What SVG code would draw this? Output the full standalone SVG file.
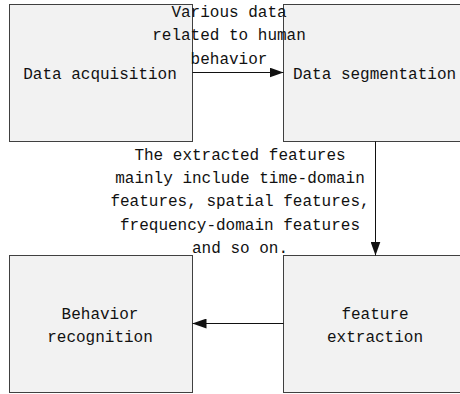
<svg xmlns="http://www.w3.org/2000/svg" width="460" height="394" viewBox="0 0 460 394">
  <style>
    .box { fill: #f2f2f2; stroke: #404040; stroke-width: 1; }
    .t { font-family: "Liberation Mono", "DejaVu Sans Mono", monospace; font-size: 16px; fill: #111; text-anchor: middle; }
    .conn { stroke: #111; stroke-width: 1; fill: none; }
  </style>
  <defs>
    <marker id="arr" viewBox="0 0 14 10" refX="14" refY="5" markerWidth="14" markerHeight="10" markerUnits="userSpaceOnUse" orient="auto">
      <path d="M0,0 L14,5 L0,10 Z" fill="#111"/>
    </marker>
  </defs>
  <g id="acq">
    <rect class="box" x="9.5" y="4.5" width="183" height="137"/>
    <text class="t" x="100" y="79">Data acquisition</text>
  </g>
  <g id="seg">
    <rect class="box" x="283.5" y="4.5" width="183" height="137"/>
    <text class="t" x="374.5" y="79">Data segmentation</text>
  </g>
  <g id="rec">
    <rect class="box" x="9.5" y="255.5" width="183" height="137"/>
    <text class="t" x="100" y="319">Behavior</text>
    <text class="t" x="100" y="342">recognition</text>
  </g>
  <g id="ext">
    <rect class="box" x="283.5" y="255.5" width="183" height="137"/>
    <text class="t" x="375" y="319">feature</text>
    <text class="t" x="375" y="342">extraction</text>
  </g>
  <g id="connectors">
    <line class="conn" x1="192.5" y1="72.5" x2="283.5" y2="72.5" marker-end="url(#arr)"/>
    <line class="conn" x1="375.5" y1="141.5" x2="375.5" y2="255.5" marker-end="url(#arr)"/>
    <line class="conn" x1="283.5" y1="323.5" x2="192.5" y2="323.5" marker-end="url(#arr)"/>
  </g>
  <g id="labels">
    <text class="t" x="229" y="17">Various data</text>
    <text class="t" x="229" y="40">related to human</text>
    <text class="t" x="229" y="63.5">behavior</text>
    <text class="t" x="240" y="160">The extracted features</text>
    <text class="t" x="240" y="183.2">mainly include time-domain</text>
    <text class="t" x="240" y="206.4">features, spatial features,</text>
    <text class="t" x="240" y="229.6">frequency-domain features</text>
    <text class="t" x="240" y="252.8">and so on.</text>
  </g>
</svg>
